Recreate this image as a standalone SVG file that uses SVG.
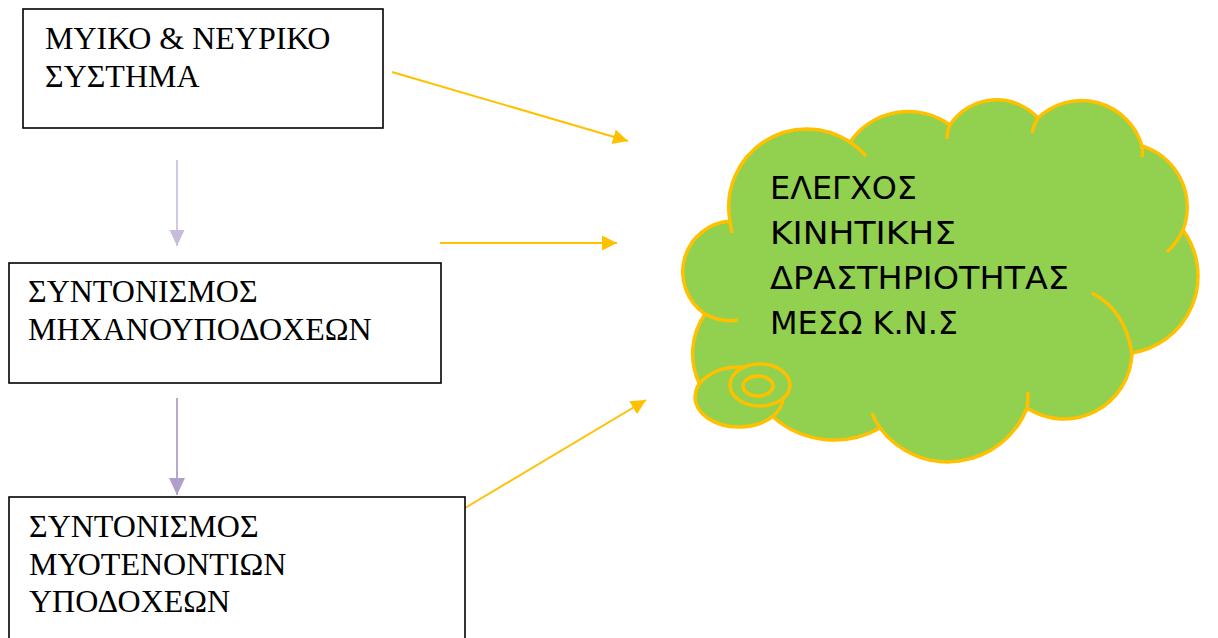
<svg xmlns="http://www.w3.org/2000/svg" width="1218" height="638" viewBox="0 0 1218 638">
  <style>
    .box { fill: #ffffff; stroke: #000000; stroke-width: 1.6; }
    .label { font-family: "Liberation Serif", "Times New Roman", serif; font-size: 32px; fill: #000000; }
    .cloud { fill: #92D050; stroke: #FFC000; stroke-width: 3.5; stroke-linejoin: round; }
    .tail { fill: none; stroke: #FFC000; stroke-width: 3.5; stroke-linecap: butt; }
    .cloud-text { font-family: "DejaVu Sans", "Liberation Sans", sans-serif; font-size: 32px; fill: #000000; }
    .link-gold { fill: none; stroke: #FFC000; stroke-width: 2; }
    .link-lilac-light { fill: none; stroke: #C8BCDD; stroke-width: 1.6; }
    .link-lilac { fill: none; stroke: #B09FCC; stroke-width: 1.8; }
  </style>
  <defs>
    <marker id="head-gold" markerUnits="userSpaceOnUse" markerWidth="16" markerHeight="16" refX="15" refY="7.5" orient="auto">
      <path d="M0,0 L15,7.5 L0,15 Z" fill="#FFC000"/>
    </marker>
    <marker id="head-lilac-light" markerUnits="userSpaceOnUse" markerWidth="16" markerHeight="16" refX="16" refY="7.5" orient="auto">
      <path d="M0,0 L16,7.5 L0,15 Z" fill="#C8BCDD"/>
    </marker>
    <marker id="head-lilac" markerUnits="userSpaceOnUse" markerWidth="17" markerHeight="17" refX="17" refY="8" orient="auto">
      <path d="M0,0 L17,8 L0,16 Z" fill="#B09FCC"/>
    </marker>
  </defs>

  <rect width="1218" height="638" fill="#ffffff"/>

  <!-- connectors -->
  <g id="connectors">
    <line class="link-gold" x1="392" y1="72" x2="628" y2="141" marker-end="url(#head-gold)"/>
    <line class="link-gold" x1="440" y1="243" x2="617" y2="243" marker-end="url(#head-gold)"/>
    <line class="link-gold" x1="465" y1="508" x2="646" y2="400" marker-end="url(#head-gold)"/>
    <line class="link-lilac-light" x1="177" y1="160" x2="177" y2="246" marker-end="url(#head-lilac-light)"/>
    <line class="link-lilac" x1="177" y1="398" x2="177" y2="495" marker-end="url(#head-lilac)"/>
  </g>

  <!-- muscular & nervous system -->
  <g id="node-system">
    <rect class="box" x="23" y="9" width="360" height="119"/>
    <text class="label" x="45" y="49">ΜΥΙΚΟ &amp; ΝΕΥΡΙΚΟ</text>
    <text class="label" x="45" y="87">ΣΥΣΤΗΜΑ</text>
  </g>

  <!-- mechanoreceptor coordination -->
  <g id="node-mechanoreceptors">
    <rect class="box" x="9" y="263" width="432" height="120"/>
    <text class="label" x="28" y="302">ΣΥΝΤΟΝΙΣΜΟΣ</text>
    <text class="label" x="28" y="340">ΜΗΧΑΝΟΥΠΟΔΟΧΕΩΝ</text>
  </g>

  <!-- musculotendinous receptor coordination -->
  <g id="node-tendon-receptors">
    <rect class="box" x="9" y="497" width="456" height="150"/>
    <text class="label" x="29" y="537">ΣΥΝΤΟΝΙΣΜΟΣ</text>
    <text class="label" x="29" y="575">ΜΥΟΤΕΝΟΝΤΙΩΝ</text>
    <text class="label" x="29" y="612">ΥΠΟΔΟΧΕΩΝ</text>
  </g>

  <!-- cloud callout: CNS control of motor activity -->
  <g id="node-cns-cloud">
    <path class="cloud" d="M730,221
      A78,78 0 0 1 850,142
      A71,71 0 0 1 950,125
      A56,56 0 0 1 1038,118
      A63,63 0 0 1 1142,146
      A64,64 0 0 1 1183,230
      A78,78 0 0 1 1132,353
      A68,68 0 0 1 1027,408
      A85,85 0 0 1 880,428
      A93,93 0 0 1 772,416
      L720,395 L700,385
      A70,70 0 0 1 705,314
      A51,51 0 0 1 730,221 Z"/>
    <path class="tail" d="M738,320 A51,51 0 0 1 705,314
      M732,233 A78,78 0 0 1 730,221
      M850,142 A78,78 0 0 1 866,156
      M947,139 Q947,131 950,125
      M1032,133 Q1034,124 1038,118
      M1142,146 Q1143,152 1142,157
      M1183,230 Q1177,243 1167,252
      M1092,293 Q1125,310 1132,353
      M1027,408 Q1028,400 1028,392
      M880,428 Q875,421 872,413"/>
    <ellipse class="cloud" cx="739" cy="397" rx="44" ry="30"/>
    <ellipse class="cloud" cx="760" cy="385" rx="30" ry="21"/>
    <ellipse class="cloud" cx="758" cy="386" rx="15" ry="10"/>
    <text class="cloud-text" x="770" y="199" textLength="147" lengthAdjust="spacingAndGlyphs">ΕΛΕΓΧΟΣ</text>
    <text class="cloud-text" x="770" y="244" textLength="186" lengthAdjust="spacingAndGlyphs">ΚΙΝΗΤΙΚΗΣ</text>
    <text class="cloud-text" x="770" y="289" textLength="299" lengthAdjust="spacingAndGlyphs">ΔΡΑΣΤΗΡΙΟΤΗΤΑΣ</text>
    <text class="cloud-text" x="770" y="334" textLength="188" lengthAdjust="spacingAndGlyphs">ΜΕΣΩ Κ.Ν.Σ</text>
  </g>
</svg>
